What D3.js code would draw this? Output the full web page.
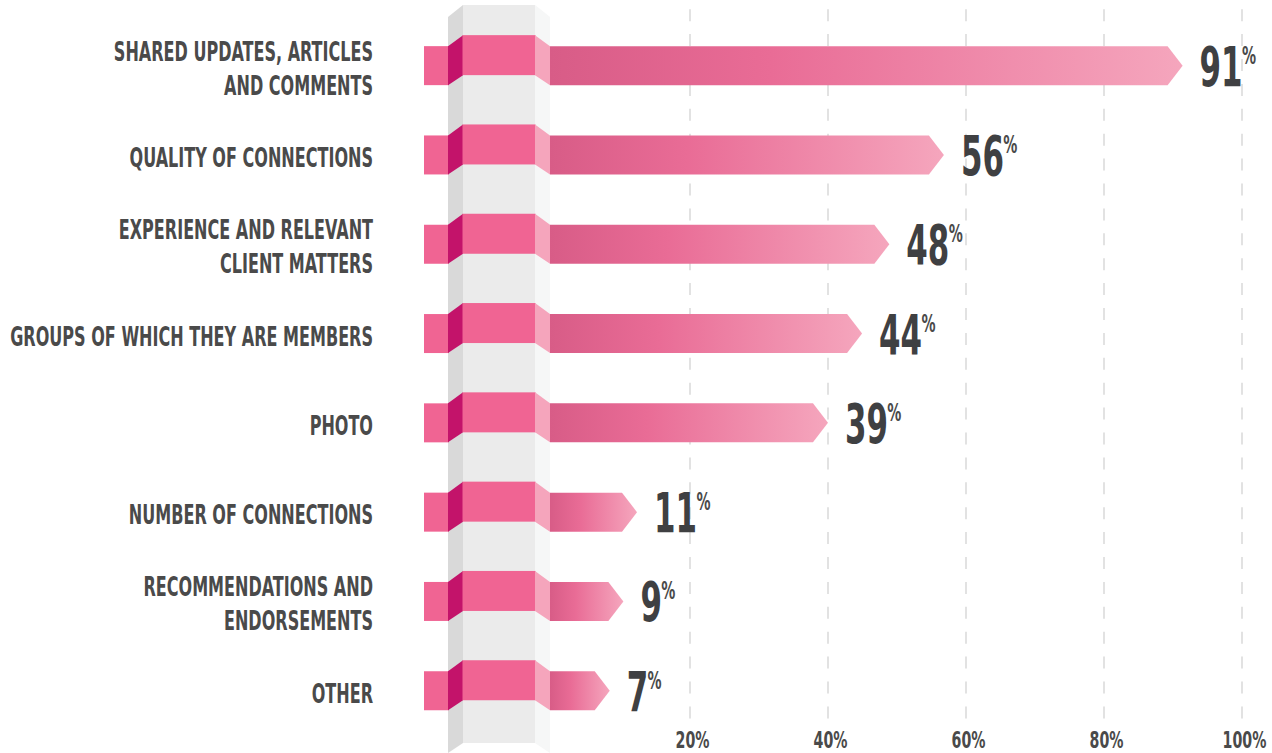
<!DOCTYPE html>
<html>
<head>
<meta charset="utf-8">
<script src="https://cdn.jsdelivr.net/npm/d3@7"></script>
<style>
  html, body { margin: 0; padding: 0; background: #ffffff; }
  svg { display: block; }
</style>
</head>
<body>
<svg id="chart" width="1272" height="753"></svg>
<script>
const categories = [
  "Shared updates, articles and comments",
  "Quality of connections",
  "Experience and relevant client matters",
  "Groups of which they are members",
  "Photo",
  "Number of connections",
  "Recommendations and endorsements",
  "Other"
];
const labelLines = [
  ["SHARED UPDATES, ARTICLES", "AND COMMENTS"],
  ["QUALITY OF CONNECTIONS"],
  ["EXPERIENCE AND RELEVANT", "CLIENT MATTERS"],
  ["GROUPS OF WHICH THEY ARE MEMBERS"],
  ["PHOTO"],
  ["NUMBER OF CONNECTIONS"],
  ["RECOMMENDATIONS AND", "ENDORSEMENTS"],
  ["OTHER"]
];
const values = [91, 56, 48, 44, 39, 11, 9, 7];
const tickValues = [20, 40, 60, 80, 100];

const FONT = "'Liberation Sans Narrow', 'DejaVu Sans Condensed', 'Roboto Condensed', 'Liberation Sans', sans-serif";
const svg = d3.select("#chart");

// grid / axis scale
const x = d3.scaleLinear().domain([0, 100]).range([552, 1242]);
// bar-tip scale (the arrows in the design sit slightly right of the grid)
const xBar = d3.scaleLinear().domain([0, 100]).range([562, 1244]);
const y = d3.scaleBand().domain(categories).range([21, 21 + 8 * 89.3]).padding(0);
const cy = d => y(d) + y.bandwidth() / 2;

// gradient for bars
const defs = svg.append("defs");
const grad = defs.append("linearGradient").attr("id", "barGrad")
  .attr("x1", "0%").attr("x2", "100%").attr("y1", "0%").attr("y2", "0%");
grad.append("stop").attr("offset", "0%").attr("stop-color", "#d85c87");
grad.append("stop").attr("offset", "35%").attr("stop-color", "#e96c96");
grad.append("stop").attr("offset", "100%").attr("stop-color", "#f5a6bd");

// dashed gridlines
svg.append("g").selectAll("line").data(tickValues).join("line")
  .attr("x1", d => x(d)).attr("x2", d => x(d))
  .attr("y1", -15.7).attr("y2", 721)
  .attr("stroke", "#e2e2e2").attr("stroke-width", 2)
  .attr("stroke-dasharray", "12 12.9");

// pillar
const pillar = svg.append("g");
pillar.append("polygon").attr("points", "448,17 463,5 463,743 448,753").attr("fill", "#d9d9d9");
pillar.append("rect").attr("x", 463).attr("y", 5).attr("width", 72).attr("height", 738).attr("fill", "#ebebeb");
pillar.append("polygon").attr("points", "535,5 550,17 550,753 535,743").attr("fill", "#f6f7f7");

const rows = categories.map((c, i) => ({ c, v: values[i], lines: labelLines[i] }));

// ribbons wrapping the pillar
const rib = svg.append("g").selectAll("g").data(rows).join("g")
  .attr("transform", d => `translate(0,${cy(d.c)})`);
rib.append("rect").attr("x", 424).attr("y", -19.5).attr("width", 25).attr("height", 39).attr("fill", "#f06493");
rib.append("polygon").attr("points", "448,-19.5 463,-30.5 463,9.5 448,19.5").attr("fill", "#c3136a");
rib.append("rect").attr("x", 462.5).attr("y", -30.5).attr("width", 73).attr("height", 40).attr("fill", "#f06493");
rib.append("polygon").attr("points", "535,-30.5 550,-19.5 550,19.5 535,9.5").attr("fill", "#f5a5bc");

// arrow bars
rib.append("path")
  .attr("d", d => {
    const x0 = 550, t = xBar(d.v), h = 19.5, a = 15;
    return `M${x0},${-h}L${t - a},${-h}L${t},0L${t - a},${h}L${x0},${h}Z`;
  })
  .attr("fill", "url(#barGrad)");

// category labels
const labG = svg.append("g");
const labTexts = [];
rows.forEach(d => {
  const n = d.lines.length;
  const c = cy(d.c) + 2.5;
  d.lines.forEach((ln, j) => {
    const base = c + 9.5 + (j - (n - 1) / 2) * 34;
    const t = labG.append("text")
      .attr("text-anchor", "end")
      .attr("font-family", FONT).attr("font-weight", "bold")
      .attr("font-size", 26).attr("fill", "#4a4a4a")
      .attr("data-base", base)
      .text(ln);
    labTexts.push(t);
  });
});
let maxW = 0;
labTexts.forEach(t => { maxW = Math.max(maxW, t.node().getComputedTextLength()); });
const fLab = 363 / maxW;
labTexts.forEach(t => {
  t.attr("transform", `translate(373,${t.attr("data-base")}) scale(${fLab},1)`);
});

// value labels
const valG = svg.append("g");
const probe = valG.append("text").attr("font-family", FONT).attr("font-weight", "bold")
  .attr("font-size", 55).text("44");
const fVal = 43 / probe.node().getComputedTextLength();
probe.remove();
rows.forEach(d => {
  const g = valG.append("g")
    .attr("transform", `translate(${xBar(d.v) + 17},${cy(d.c)}) scale(${fVal},1)`);
  const num = g.append("text")
    .attr("font-family", FONT).attr("font-weight", "bold")
    .attr("font-size", 55).attr("fill", "#3f4042")
    .attr("y", 20).text(d.v);
  const w = num.node().getComputedTextLength();
  g.append("text")
    .attr("font-family", FONT).attr("font-weight", "bold")
    .attr("font-size", 25).attr("fill", "#4a4a4a")
    .attr("x", w - 1).attr("y", -2).text("%");
});

// bottom axis
const axis = d3.axisBottom(x).tickValues(tickValues).tickFormat(d => d + "%").tickSize(0).tickPadding(0);
const axG = svg.append("g").attr("transform", "translate(2,0)").call(axis);
axG.select(".domain").remove();
axG.selectAll("text")
  .attr("font-family", FONT).attr("font-weight", "bold")
  .attr("font-size", 23).attr("fill", "#4a4a4a")
  .attr("dy", null).attr("y", 0);
axG.selectAll(".tick text").each(function () {
  const t = d3.select(this);
  t.attr("transform", `translate(0,748) scale(${fLab},1)`);
});
</script>
</body>
</html>
